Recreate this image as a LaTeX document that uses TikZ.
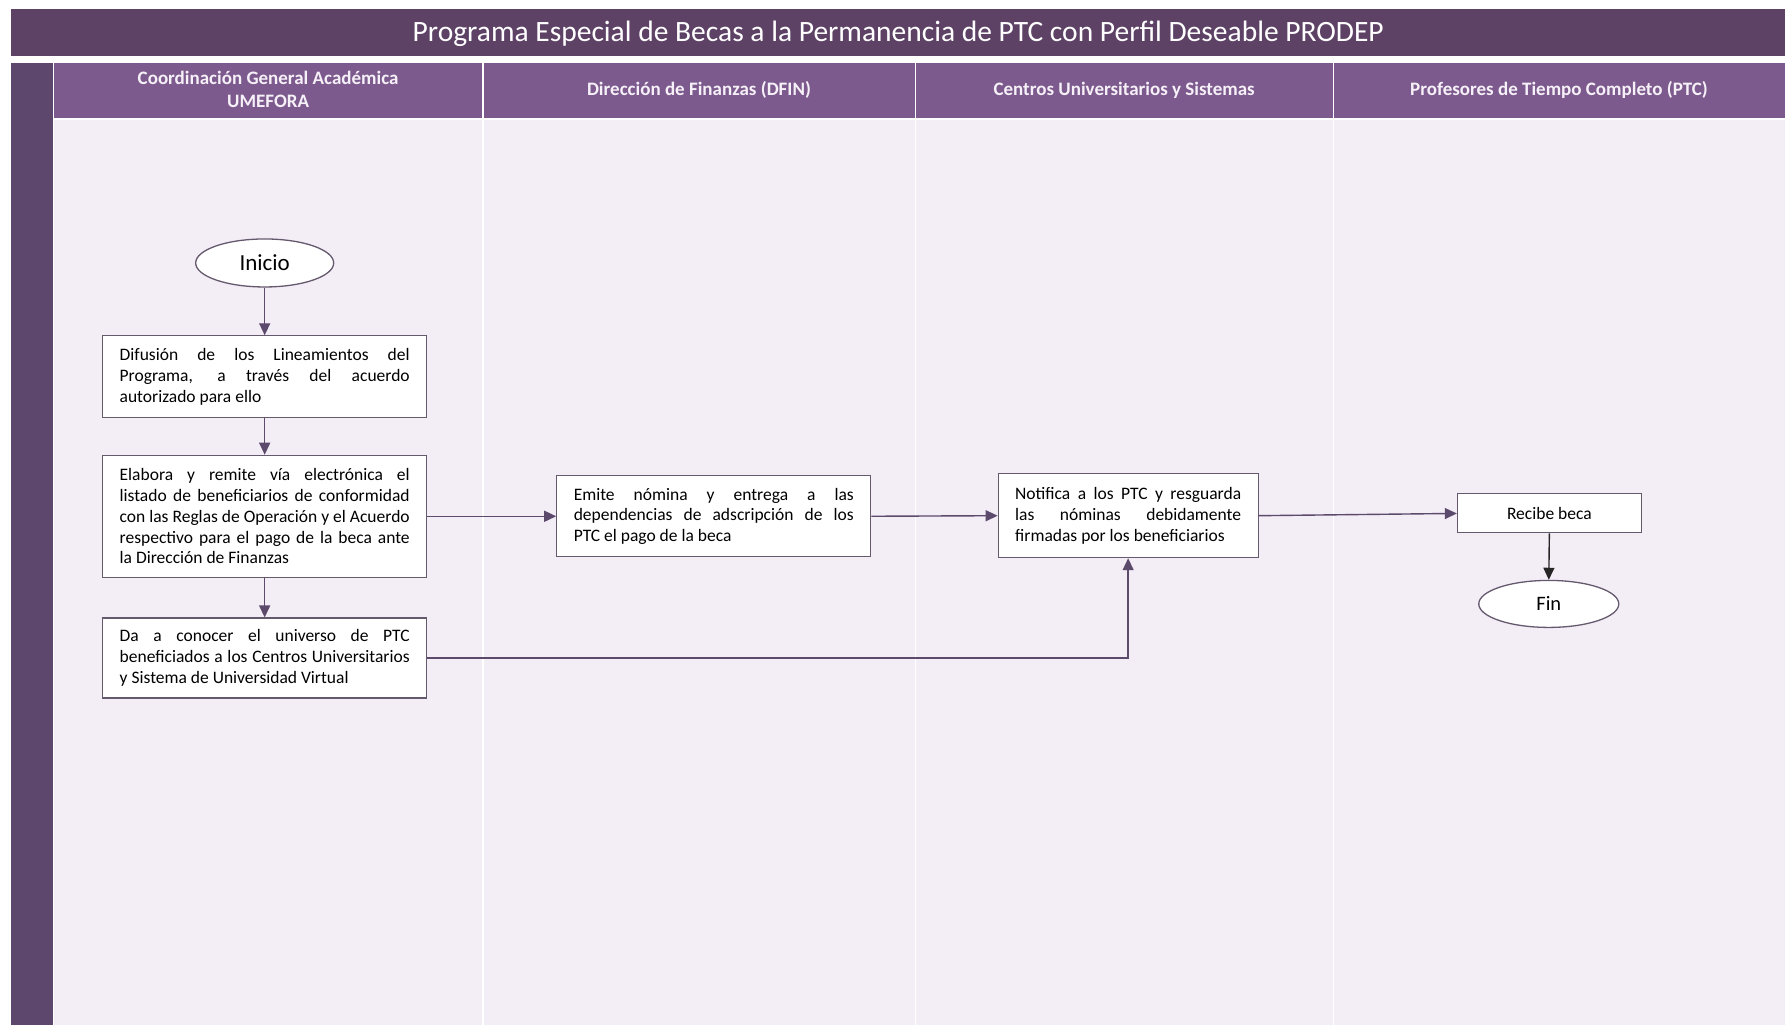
\documentclass[tikz,border=0pt]{standalone}
\usepackage{fontspec}
\setmainfont{Carlito}
\usetikzlibrary{arrows.meta,shapes.geometric}
\definecolor{titlebg}{HTML}{5D4266}
\definecolor{headbg}{HTML}{7D5A8D}
\definecolor{sidebar}{HTML}{5E476D}
\definecolor{lanebg}{HTML}{F3EDF6}
\definecolor{flowline}{HTML}{5B4A6B}
\definecolor{boxline}{HTML}{65596D}
\definecolor{headtext}{HTML}{F6F0F8}
\newcommand\myboxfont{\fontsize{17.5}{20.8}\selectfont\hyphenpenalty=10000 \exhyphenpenalty=10000\relax}
\tikzset{
  titletext/.style={text=white, font=\fontsize{29.5}{34}\selectfont},
  headtxt/.style={text=headtext, font=\bfseries\fontsize{19}{23}\selectfont, align=center},
  procbox/.style={draw=boxline, line width=1.1pt, fill=white, inner xsep=0pt, inner ysep=0pt,
    font=\myboxfont, align=justify},
  termnode/.style={ellipse, draw=boxline, line width=1.3pt, fill=white, inner sep=0pt},
  flow/.style={draw=flowline, line width=1.4pt, -{Triangle[length=12pt,width=11pt]}},
  blackflow/.style={draw=black!85, line width=1.4pt, -{Triangle[length=12pt,width=11pt]}}
}
\begin{document}
\begin{tikzpicture}[x=1.1384pt,y=-1.1384pt]
\useasboundingbox (0,0) rectangle (1568,900.4);
\fill[white] (0,0) rectangle (1568,900.4);
% title bar
\fill[titlebg] (10,8) rectangle (1568,49);
\node[titletext] (title) at (789,30) {Programa Especial de Becas a la Permanencia de PTC con Perfil Deseable PRODEP};
% side bar
\fill[sidebar] (10,55) rectangle (46.5,900.4);
% lanes
\foreach \xa/\xb in {47.5/423.5, 425/803.5, 805/1170.5, 1172/1568}{
  \fill[headbg] (\xa,55) rectangle (\xb,103.5);
  \fill[lanebg] (\xa,105) rectangle (\xb,900.4);
}
\node[headtxt] (h1) at (235.5,78.5) {Coordinación General Académica\\UMEFORA};
\node[headtxt] (h2) at (614,79) {Dirección de Finanzas (DFIN)};
\node[headtxt] (h3) at (987.5,79) {Centros Universitarios y Sistemas};
\node[headtxt] (h4) at (1369.5,79) {Profesores de Tiempo Completo (PTC)};
% nodes
\node[termnode, minimum width=138pt, minimum height=48pt, font=\fontsize{23}{26}\selectfont] (inicio) at (232.5,231) {Inicio};
\node[procbox, minimum width=324pt, minimum height=82pt, text width=290pt] (b1) at (232.5,331)
  {Difusión de los Lineamientos del\linebreak Programa, a través del acuerdo\linebreak autorizado~para~ello};
\node[procbox, minimum width=324pt, minimum height=122pt, text width=290pt] (b2) at (232.5,453.5)
  {Elabora y remite vía electrónica el\linebreak listado~de~beneficiarios~de~conformidad\linebreak con~las~Reglas~de~Operación~y~el~Acuerdo\linebreak respectivo~para~el~pago~de~la~beca~ante\linebreak la~Dirección~de~Finanzas};
\node[procbox, minimum width=324pt, minimum height=80pt, text width=290pt] (b3) at (232.5,578)
  {Da a conocer el universo de PTC\linebreak beneficiados~a~los~Centros~Universitarios\linebreak y~Sistema~de~Universidad~Virtual};
\node[procbox, minimum width=314pt, minimum height=81pt, text width=280pt] (b4) at (627,453.5)
  {Emite nómina y entrega a las\linebreak dependencias~de~adscripción~de~los\linebreak PTC~el~pago~de~la~beca};
\node[procbox, minimum width=260pt, minimum height=84pt, text width=226pt] (b5) at (991,453)
  {Notifica~a~los~PTC~y~resguarda\linebreak las~nóminas~debidamente\linebreak firmadas~por~los~beneficiarios};
\node[procbox, minimum width=184pt, minimum height=39pt, align=center] (b6) at (1361,451) {Recibe beca};
\node[termnode, minimum width=140pt, minimum height=47pt, font=\fontsize{20.5}{23}\selectfont] (fin) at (1360.5,530.5) {Fin};
% connectors
\draw[flow] (inicio.south) -- (b1.north);
\draw[flow] (b1.south) -- (b2.north);
\draw[flow] (b2.south) -- (b3.north);
\draw[flow] (b2.east) -- (b4.west);
\draw[flow] (b4.east) -- (b5.west);
\draw[flow] (b3.east) -| (b5.south);
\draw[flow] (b5.east) -- (b6.west);
\draw[blackflow] (b6.south) -- (fin.north);
\end{tikzpicture}
\end{document}
